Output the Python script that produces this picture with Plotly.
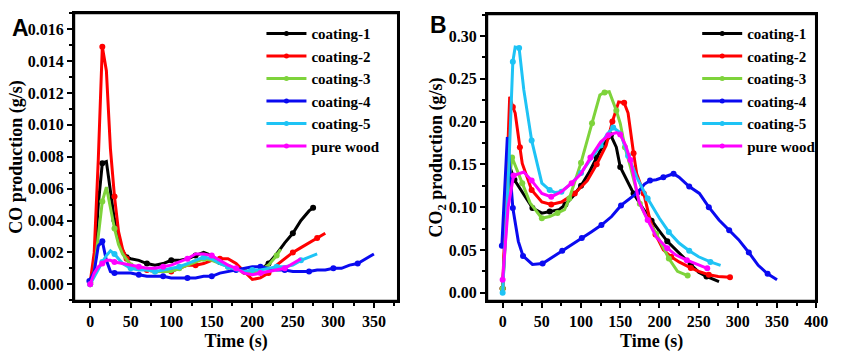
import plotly.graph_objects as go

# ---------------- Panel A : CO production ----------------
names = ["coating-1", "coating-2", "coating-3", "coating-4", "coating-5", "pure wood"]
colors = ["#000000", "#FF0000", "#7ED33B", "#0A0AF0", "#1EC3F5", "#FF00FF"]

a_t1 = [0, 5, 10, 15, 20, 25, 30, 35, 40, 45, 50, 60, 70, 80, 90, 100, 110, 120, 130, 140, 150, 160, 170, 180, 190, 200, 210, 220, 230, 240, 250, 260, 270, 275]
a_v1 = [0.0001, 0.0012, 0.0050, 0.0076, 0.0077, 0.0057, 0.0040, 0.0028, 0.0021, 0.0017, 0.0016, 0.0015, 0.0013, 0.0012, 0.0013, 0.0015, 0.0015, 0.0016, 0.0018, 0.0020, 0.0018, 0.0014, 0.0011, 0.0009, 0.0008, 0.0008, 0.0009, 0.0013, 0.0019, 0.0026, 0.0032, 0.0040, 0.0046, 0.0048]

a_t2 = [0, 5, 10, 15, 20, 25, 30, 35, 40, 45, 50, 60, 70, 80, 90, 100, 110, 120, 130, 140, 150, 160, 170, 180, 190, 200, 210, 220, 230, 240, 250, 260, 270, 280, 290]
a_v2 = [0.0001, 0.0020, 0.0078, 0.0149, 0.0134, 0.0085, 0.0055, 0.0033, 0.0022, 0.0016, 0.0012, 0.0010, 0.0009, 0.0008, 0.0008, 0.0008, 0.0010, 0.0012, 0.0012, 0.0013, 0.0015, 0.0016, 0.0016, 0.0013, 0.0008, 0.0003, 0.0004, 0.0007, 0.0012, 0.0016, 0.0020, 0.0023, 0.0026, 0.0029, 0.0032]

a_t3 = [0, 5, 10, 15, 20, 25, 30, 35, 40, 50, 60, 70, 80, 90, 100, 110, 120, 130, 140, 150, 160, 170, 180, 190, 200, 210, 220, 230, 235]
a_v3 = [0.0000, 0.0008, 0.0030, 0.0052, 0.0061, 0.0048, 0.0035, 0.0025, 0.0019, 0.0012, 0.0010, 0.0009, 0.0008, 0.0008, 0.0008, 0.0010, 0.0012, 0.0014, 0.0016, 0.0015, 0.0013, 0.0011, 0.0009, 0.0008, 0.0007, 0.0009, 0.0012, 0.0018, 0.0022]

a_t4 = [-1, 5, 10, 15, 20, 25, 30, 40, 50, 60, 70, 80, 90, 100, 110, 120, 130, 140, 150, 160, 170, 180, 190, 200, 210, 220, 230, 240, 250, 260, 270, 280, 290, 300, 310, 320, 330, 340, 350]
a_v4 = [0.0002, 0.0008, 0.0024, 0.0027, 0.0015, 0.0008, 0.0007, 0.0007, 0.0007, 0.0006, 0.0005, 0.0005, 0.0005, 0.0004, 0.0004, 0.0004, 0.0004, 0.0005, 0.0005, 0.0007, 0.0008, 0.0009, 0.0010, 0.0011, 0.0011, 0.0010, 0.0009, 0.0009, 0.0008, 0.0008, 0.0008, 0.0009, 0.0009, 0.0010, 0.0010, 0.0012, 0.0013, 0.0016, 0.0019]

a_t5 = [0, 5, 10, 15, 20, 25, 30, 35, 40, 50, 60, 70, 80, 90, 100, 110, 120, 130, 140, 150, 160, 170, 180, 190, 200, 210, 220, 230, 240, 250, 260, 270, 280]
a_v5 = [0.0000, 0.0005, 0.0010, 0.0014, 0.0018, 0.0021, 0.0019, 0.0016, 0.0013, 0.0010, 0.0009, 0.0009, 0.0008, 0.0009, 0.0010, 0.0011, 0.0013, 0.0015, 0.0017, 0.0016, 0.0013, 0.0011, 0.0009, 0.0008, 0.0009, 0.0009, 0.0010, 0.0011, 0.0011, 0.0012, 0.0015, 0.0017, 0.0019]

a_t6 = [0, 5, 10, 15, 20, 25, 30, 40, 50, 60, 70, 80, 90, 100, 110, 120, 130, 140, 150, 160, 170, 180, 190, 200, 210, 220, 230, 240, 250, 260]
a_v6 = [0.0000, 0.0007, 0.0011, 0.0013, 0.0015, 0.0015, 0.0014, 0.0013, 0.0012, 0.0011, 0.0010, 0.0010, 0.0011, 0.0012, 0.0014, 0.0016, 0.0019, 0.0019, 0.0018, 0.0015, 0.0012, 0.0010, 0.0007, 0.0006, 0.0007, 0.0008, 0.0009, 0.0010, 0.0013, 0.0016]

# ---------------- Panel B : CO2 production ----------------
b_t1 = [0, 8, 15, 25, 38, 50, 60, 72, 80, 90, 100, 110, 120, 130, 138, 145, 150, 160, 167, 180, 190, 200, 210, 225, 240, 250, 260, 276]
b_v1 = [0.005, 0.150, 0.132, 0.117, 0.099, 0.093, 0.095, 0.097, 0.103, 0.113, 0.125, 0.140, 0.158, 0.175, 0.184, 0.170, 0.147, 0.128, 0.116, 0.097, 0.084, 0.072, 0.060, 0.046, 0.033, 0.024, 0.019, 0.013]

b_t2 = [0, 9, 13, 16, 22, 25, 37, 50, 62, 75, 92, 108, 120, 132, 140, 148, 155, 160, 167, 171, 180, 188, 195, 205, 215, 225, 240, 250, 263, 275, 290]
b_v2 = [0.005, 0.229, 0.217, 0.210, 0.170, 0.151, 0.120, 0.106, 0.103, 0.106, 0.116, 0.131, 0.150, 0.172, 0.200, 0.223, 0.222, 0.210, 0.163, 0.139, 0.116, 0.085, 0.068, 0.050, 0.042, 0.036, 0.029, 0.025, 0.021, 0.019, 0.018]

b_t3 = [0, 8, 12, 18, 25, 35, 50, 60, 70, 79, 85, 92, 100, 107, 114, 124, 130, 136, 145, 150, 156, 163, 175, 185, 196, 202, 212, 223, 236]
b_v3 = [0.005, 0.130, 0.158, 0.145, 0.128, 0.105, 0.087, 0.089, 0.093, 0.097, 0.110, 0.130, 0.152, 0.175, 0.198, 0.231, 0.234, 0.235, 0.213, 0.198, 0.170, 0.147, 0.104, 0.085, 0.069, 0.058, 0.040, 0.025, 0.020]

b_t4 = [-1, 6, 13, 20, 26, 38, 51, 63, 76, 88, 101, 113, 126, 139, 151, 162, 172, 181, 188, 196, 205, 212, 218, 225, 238, 251, 263, 276, 289, 301, 314, 326, 338, 350]
b_v4 = [0.055, 0.182, 0.099, 0.060, 0.043, 0.033, 0.034, 0.041, 0.049, 0.056, 0.064, 0.071, 0.079, 0.089, 0.102, 0.110, 0.117, 0.127, 0.131, 0.132, 0.135, 0.137, 0.139, 0.135, 0.124, 0.116, 0.100, 0.085, 0.073, 0.062, 0.047, 0.032, 0.022, 0.015]

b_t5 = [0, 8, 13, 16, 21, 27, 37, 50, 60, 67, 75, 88, 100, 112, 125, 133, 141, 150, 160, 171, 185, 200, 212, 225, 238, 250, 265, 278]
b_v5 = [0.000, 0.150, 0.270, 0.287, 0.286, 0.237, 0.178, 0.128, 0.120, 0.117, 0.118, 0.128, 0.140, 0.155, 0.172, 0.185, 0.193, 0.187, 0.160, 0.135, 0.110, 0.087, 0.071, 0.058, 0.049, 0.042, 0.036, 0.032]

b_t6 = [0, 7, 14, 27, 37, 50, 62, 75, 88, 100, 112, 125, 135, 145, 150, 157, 163, 174, 185, 196, 210, 221, 235, 246, 261]
b_v6 = [0.015, 0.100, 0.137, 0.141, 0.131, 0.116, 0.112, 0.118, 0.128, 0.139, 0.158, 0.176, 0.184, 0.187, 0.185, 0.172, 0.155, 0.106, 0.085, 0.065, 0.052, 0.044, 0.038, 0.034, 0.0285]

a_series = [(a_t1, a_v1), (a_t2, a_v2), (a_t3, a_v3), (a_t4, a_v4), (a_t5, a_v5), (a_t6, a_v6)]
b_series = [(b_t1, b_v1), (b_t2, b_v2), (b_t3, b_v3), (b_t4, b_v4), (b_t5, b_v5), (b_t6, b_v6)]

a_yticks = [0.000, 0.002, 0.004, 0.006, 0.008, 0.010, 0.012, 0.014, 0.016]
b_yticks = [0.00, 0.05, 0.10, 0.15, 0.20, 0.25, 0.30]
a_xticks = [0, 50, 100, 150, 200, 250, 300, 350]
b_xticks = [0, 50, 100, 150, 200, 250, 300, 350, 400]

SERIF = "Liberation Serif"
fig = go.Figure()

def add_panel(series, xa, ya, legend, step):
    for (t, v), nm, c in zip(series, names, colors):
        fig.add_trace(go.Scatter(x=t, y=v, mode="lines", line=dict(color=c, width=3),
                                 xaxis=xa, yaxis=ya, showlegend=False, hoverinfo="skip"))
        fig.add_trace(go.Scatter(x=t[::step], y=v[::step], mode="markers",
                                 marker=dict(color=c, size=6), xaxis=xa, yaxis=ya,
                                 showlegend=False, hoverinfo="skip"))
        fig.add_trace(go.Scatter(x=[None], y=[None], mode="lines+markers", name=nm,
                                 line=dict(color=c, width=3), marker=dict(color=c, size=5),
                                 xaxis=xa, yaxis=ya, legend=legend))

add_panel(a_series, "x", "y", "legend", 3)
add_panel(b_series, "x2", "y2", "legend2", 2)

axis_common = dict(showline=True, linecolor="black", linewidth=2, mirror=True,
                   ticks="outside", ticklen=5, tickwidth=1.5, tickcolor="black",
                   showgrid=False, zeroline=False,
                   tickfont=dict(family=SERIF, size=16, color="black", weight="bold"))
title_font = dict(family=SERIF, size=18, color="black", weight="bold")
legend_font = dict(family=SERIF, size=15, color="black", weight="bold")

# frame boxes around both panels
frames = [dict(type="rect", xref=f"{xa} domain", yref=f"{ya} domain", x0=0, x1=1, y0=0, y1=1,
               line=dict(color="black", width=2.5))
          for xa, ya in (("x", "y"), ("x2", "y2"))]

fig.update_layout(
    width=842, height=352, margin=dict(l=0, r=0, t=0, b=0),
    paper_bgcolor="white", plot_bgcolor="white",
    shapes=frames,
    xaxis=dict(domain=[0.0891, 0.4798], anchor="y", range=[-20, 380],
               tickvals=a_xticks, ticktext=[str(v) for v in a_xticks],
               minor=dict(ticks="outside", ticklen=3, dtick=25, tickcolor="black"),
               title=dict(text="Time (s)", font=title_font, standoff=6), **axis_common),
    yaxis=dict(domain=[0.1449, 0.9631], anchor="x", range=[-0.00105, 0.01702],
               tickvals=a_yticks, ticktext=["%.3f" % v for v in a_yticks],
               minor=dict(ticks="outside", ticklen=3, dtick=0.001, tickcolor="black"),
               title=dict(text="CO production (g/s)", font=title_font, standoff=0), **axis_common),
    xaxis2=dict(domain=[0.5867, 0.9834], anchor="y2", range=[-20, 400],
                tickvals=b_xticks, ticktext=[str(v) for v in b_xticks],
                minor=dict(ticks="outside", ticklen=3, dtick=25, tickcolor="black"),
                title=dict(text="Time (s)", font=title_font, standoff=6), **axis_common),
    yaxis2=dict(domain=[0.1449, 0.9602], anchor="x2", range=[-0.0097, 0.3257],
                tickvals=b_yticks, ticktext=["%.2f" % v for v in b_yticks],
                minor=dict(ticks="outside", ticklen=3, dtick=0.025, tickcolor="black"),
                title=dict(text="CO<sub>2</sub> production (g/s)", font=title_font, standoff=1), **axis_common),
    legend=dict(x=0.315, y=0.951, xanchor="left", yanchor="top", itemwidth=40,
                bgcolor="rgba(0,0,0,0)", font=legend_font),
    legend2=dict(x=0.840, y=0.951, xanchor="left", yanchor="top", itemwidth=40,
                 bgcolor="rgba(0,0,0,0)", font=legend_font),
    annotations=[
        dict(text="A", x=0.0243, y=0.920, xref="paper", yref="paper", showarrow=False,
             xanchor="center", yanchor="middle",
             font=dict(family="Liberation Sans", size=23, color="black", weight="bold")),
        dict(text="B", x=0.5285, y=0.9276, xref="paper", yref="paper", showarrow=False,
             xanchor="center", yanchor="middle",
             font=dict(family="Liberation Sans", size=23, color="black", weight="bold")),
    ],
)

fig.write_html("out.html", config={"displayModeBar": False},
               post_script="document.body.style.margin='0px';")
